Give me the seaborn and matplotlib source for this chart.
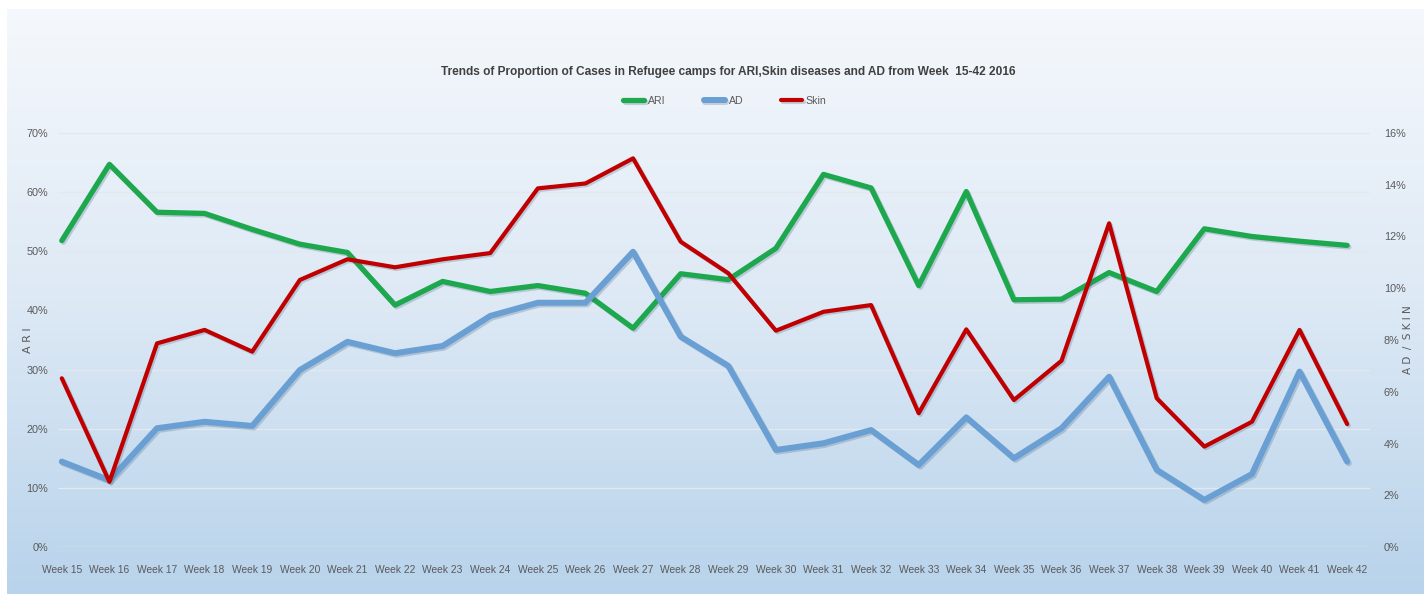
import numpy as np
import pandas as pd
import matplotlib
matplotlib.use("Agg")
import matplotlib.pyplot as plt
import matplotlib.patheffects as pe
from matplotlib.colors import LinearSegmentedColormap
from matplotlib.ticker import FuncFormatter, MultipleLocator
import seaborn as sns

weeks = [f"Week {w}" for w in range(15, 43)]
ari = [51.8, 64.7, 56.6, 56.4, 53.7, 51.2, 49.8, 40.9, 44.9, 43.2, 44.2, 42.9, 37.0, 46.2,
       45.2, 50.5, 63.0, 60.7, 44.2, 60.1, 41.8, 41.9, 46.4, 43.2, 53.8, 52.5, 51.7, 51.0]
ad = [3.30, 2.58, 4.59, 4.84, 4.68, 6.84, 7.93, 7.49, 7.77, 8.93, 9.44, 9.44, 11.41, 8.13,
      7.00, 3.75, 4.01, 4.52, 3.17, 5.01, 3.43, 4.59, 6.58, 2.98, 1.82, 2.82, 6.78, 3.30]
skin = [6.52, 2.52, 7.87, 8.39, 7.55, 10.32, 11.12, 10.81, 11.12, 11.36, 13.86, 14.05, 15.02, 11.80,
        10.58, 8.36, 9.09, 9.35, 5.17, 8.41, 5.68, 7.20, 12.51, 5.75, 3.88, 4.84, 8.39, 4.75]

df = pd.DataFrame({"idx": np.arange(len(weeks)), "week": weeks, "ARI": ari, "AD": ad, "Skin": skin})

sns.set_theme(style="white")
plt.rcParams["font.family"] = ["Liberation Sans", "DejaVu Sans"]

W, H = 1424, 594
fig = plt.figure(figsize=(W / 100, H / 100), dpi=100, facecolor="white")

# gradient background panel
bg = fig.add_axes([7 / W, 0, 1 - 7 / W, (H - 9) / H], zorder=-10)
cmap = LinearSegmentedColormap.from_list("bg", ["#f5f8fc", "#dde9f5", "#b8d3eb"])
grad = np.linspace(0, 1, 256).reshape(-1, 1)
bg.imshow(grad, aspect="auto", cmap=cmap, extent=[0, 1, 0, 1], origin="upper")
bg.set_axis_off()

left, right = 58 / W, 1370 / W
bottom, top = (H - 547) / H, (H - 133) / H
ax = fig.add_axes([left, bottom, right - left, top - bottom])
ax.patch.set_visible(False)
ax2 = ax.twinx()
ax2.patch.set_visible(False)

GREEN = "#1ea84e"
BLUE = "#6a9fd3"
RED = "#c00000"
shadow = [pe.SimpleLineShadow(offset=(1.2, -1.2), shadow_color="#406080", alpha=0.25), pe.Normal()]

sns.lineplot(data=df, x="idx", y="ARI", ax=ax, color=GREEN, linewidth=3.8, label="ARI",
             legend=False, path_effects=shadow)
sns.lineplot(data=df, x="idx", y="AD", ax=ax2, color=BLUE, linewidth=4.3, label="AD",
             legend=False, path_effects=shadow)
sns.lineplot(data=df, x="idx", y="Skin", ax=ax2, color=RED, linewidth=3.0, label="Skin",
             legend=False, path_effects=shadow)

ax.set_xlim(-0.08, 27.48)
ax.set_ylim(0, 70)
ax2.set_ylim(0, 16)
ax.yaxis.set_major_locator(MultipleLocator(10))
ax2.yaxis.set_major_locator(MultipleLocator(2))
pct = FuncFormatter(lambda v, p: f"{v:.0f}%")
ax.yaxis.set_major_formatter(pct)
ax2.yaxis.set_major_formatter(pct)
ax.set_xticks(df["idx"])
ax.set_xticklabels(weeks)

for sp in list(ax.spines.values()) + list(ax2.spines.values()):
    sp.set_visible(False)

ax.grid(axis="y", color="#e3e8ef", linewidth=1.0)
ax.set_axisbelow(True)
ax.grid(axis="x", visible=False)

TICK = "#5a5a5a"
ax.tick_params(axis="x", length=0, pad=13, labelsize=7.4, labelcolor=TICK)
ax.tick_params(axis="y", length=0, pad=7, labelsize=7.8, labelcolor=TICK)
ax2.tick_params(axis="y", length=0, pad=10, labelsize=7.8, labelcolor=TICK)

ax.set_xlabel("")
ax.set_ylabel("A R I", color=TICK, fontsize=8, labelpad=0, family=["DejaVu Sans"])
ax.yaxis.set_label_coords(-0.019, 0.5)
ax2.set_ylabel("A D  /  S K I N", color=TICK, fontsize=7.5, rotation=90, family=["DejaVu Sans"])
ax2.yaxis.set_label_coords(1.025, 0.5)

fig.text(728 / W, 1 - 72 / H,
         "Trends of Proportion of Cases in Refugee camps for ARI,Skin diseases and AD from Week  15-42 2016",
         ha="center", va="center", fontsize=8.6, fontweight="bold", color="#404040")

handles = ax.get_lines()[:1] + ax2.get_lines()[:2]
leg = fig.legend(handles, ["ARI", "AD", "Skin"], loc="center", bbox_to_anchor=(725 / W, 1 - 101 / H),
                 ncol=3, frameon=False, fontsize=7.6, handlelength=2.0, columnspacing=3.6,
                 handletextpad=0.35, labelcolor=TICK)

fig.savefig("out.png", dpi=100, facecolor="white")
